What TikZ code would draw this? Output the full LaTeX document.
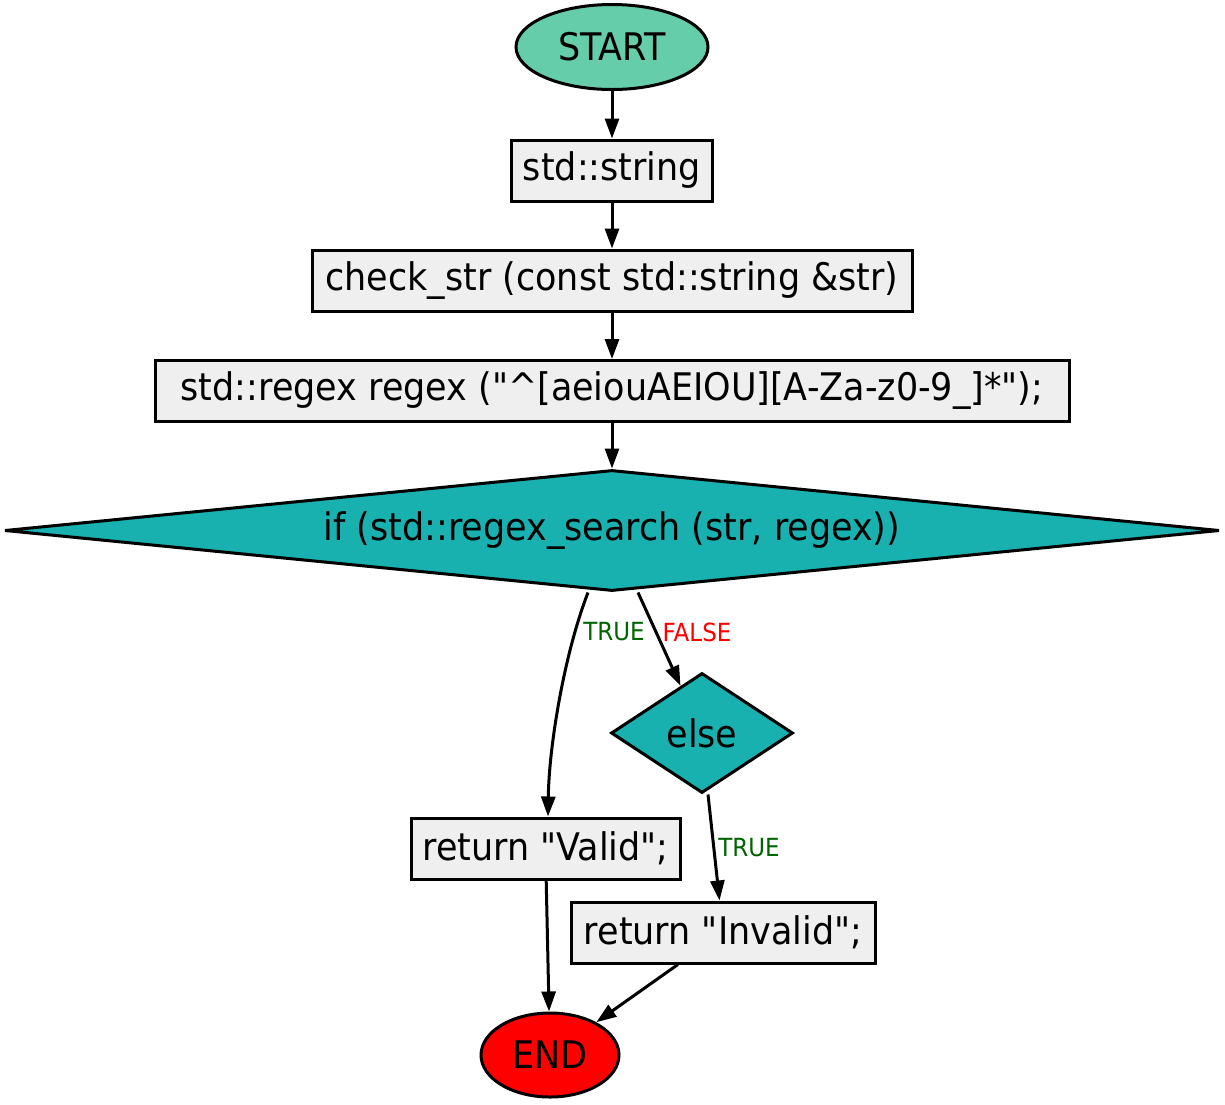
\documentclass[tikz,border=0pt]{standalone}
\usepackage{fontspec}
% plain family without TeX ligature mapping, so quotes stay straight
\newfontfamily\diagfont{DejaVu Sans}[FakeStretch=0.92]
\usetikzlibrary{shapes.geometric,arrows.meta,calc}
\definecolor{startfill}{HTML}{66CDAA}
\definecolor{boxfill}{HTML}{EFEFEF}
\definecolor{decfill}{HTML}{19B0B0}
\definecolor{truecol}{HTML}{006400}
\newcommand{\caretchar}{\char94\relax}
\begin{document}
\begin{tikzpicture}[x=1pt,y=-1pt,
  base/.style={draw=black,line width=3pt,inner sep=0pt,font=\diagfont\fontsize{38}{40}\selectfont},
  terminal/.style={base,ellipse},
  stepbox/.style={base,rectangle,fill=boxfill,minimum height=61pt,inner xsep=10pt},
  decision/.style={base,diamond,fill=decfill,aspect=10},
  flow/.style={line width=3pt,-{Triangle[length=20pt,width=14pt]}},
  elabel/.style={font=\diagfont\fontsize{25}{27}\selectfont,inner sep=0pt}]
\useasboundingbox (0,0) rectangle (1225,1104);

\node[terminal,fill=startfill,minimum width=192pt,minimum height=85pt] (start) at (612,47) {START};
\node[stepbox,minimum width=201pt] (str) at (612,170.5) {std::string};
\node[stepbox,minimum width=600pt] (chk) at (612,280.5) {check\_str (const std::string \&str)};
\node[stepbox,minimum width=914pt] (rgx) at (612,391) {std::regex regex ("\caretchar[aeiouAEIOU][A-Za-z0-9\_]*");};
\node[decision,minimum width=1215pt,minimum height=121pt] (dia) at (612,530.5) {if (std::regex\_search (str, regex))};
\node[decision,minimum width=182pt,minimum height=120pt,aspect=1.5] (els) at (702,733) {else};
\node[stepbox,minimum width=269pt] (valid) at (545.5,848.5) {return "Valid";};
\node[stepbox,minimum width=304pt] (inv) at (723,932.5) {return "Invalid";};
\node[terminal,fill=red,minimum width=138pt,minimum height=84pt] (end) at (550,1055) {END};

\draw[flow] (start) -- (str);
\draw[flow] (str) -- (chk);
\draw[flow] (chk) -- (rgx);
\draw[flow] (rgx) -- (dia);
\draw[flow] ($(dia.south)+(-24,0)$) .. controls +(-24,62) and +(1,-70) .. (valid.north -| 548,0);
\draw[flow] ($(dia.south)+(26,0)$) -- (els);
\draw[flow] ($(els.south)+(6,0)$) -- (inv);
\draw[flow] (valid) -- (end);
\draw[flow] (inv) -- (end);

\node[elabel,text=truecol] (t1) at (614,632) {TRUE};
\node[elabel,text=red] (f1) at (697,632) {FALSE};
\node[elabel,text=truecol] (t2) at (749,848) {TRUE};
\end{tikzpicture}
\end{document}
